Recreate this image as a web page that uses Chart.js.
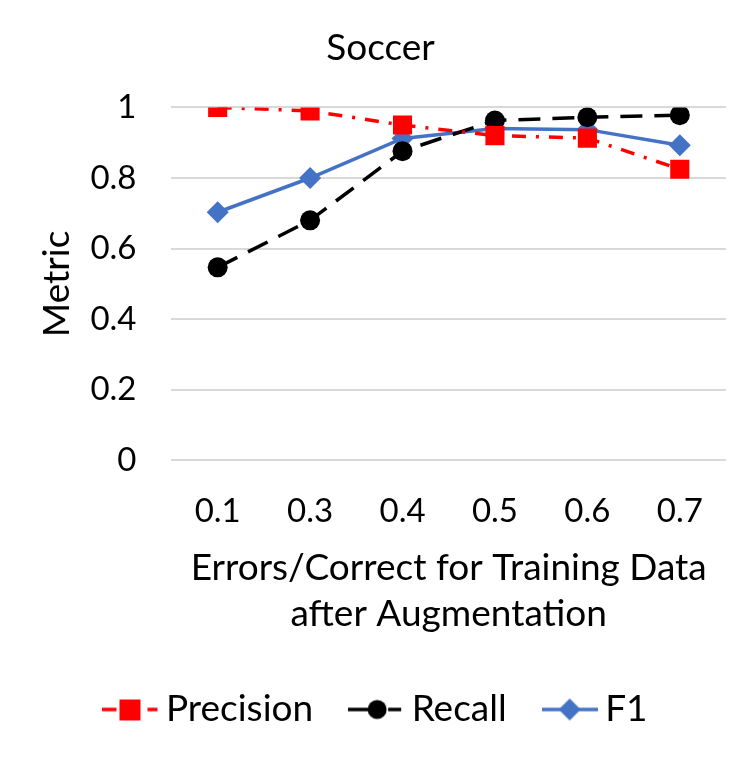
<!DOCTYPE html>
<html><head><meta charset="utf-8">
<script src="https://cdn.jsdelivr.net/npm/chart.js@4/dist/chart.umd.min.js"></script>
<style>html,body{margin:0;padding:0;background:#fff}#wrap{width:753px;height:757px}</style>
</head><body><div id="wrap"><canvas id="c" width="753" height="757"></canvas></div>
<script>
const categories = ['0.1','0.3','0.4','0.5','0.6','0.7'];
const precision = [1.0, 0.99, 0.95, 0.92, 0.913, 0.825];
const recall = [0.547, 0.68, 0.876, 0.963, 0.972, 0.978];
const f1 = [0.703, 0.80, 0.912, 0.94, 0.937, 0.893];
const yTicks = [0, 0.2, 0.4, 0.6, 0.8, 1];

const FONT = 'Lato, "Open Sans", sans-serif';
const RED = '#FF0000', BLACK = '#000000', BLUE = '#4472C4';

function legendIcon(kind) {
  const c = document.createElement('canvas');
  c.width = 56; c.height = 26;
  const g = c.getContext('2d');
  const cy = 13;
  g.lineWidth = 3.5;
  if (kind === 'precision') {
    g.strokeStyle = RED; g.fillStyle = RED;
    g.beginPath(); g.moveTo(0, cy); g.lineTo(14, cy); g.moveTo(45, cy); g.lineTo(55, cy); g.stroke();
    g.beginPath(); g.rect(17, cy - 10, 21, 21); g.fill();
  } else if (kind === 'recall') {
    g.strokeStyle = BLACK; g.fillStyle = BLACK;
    g.beginPath(); g.moveTo(0, cy); g.lineTo(22, cy); g.moveTo(40, cy); g.lineTo(53, cy); g.stroke();
    g.beginPath(); g.arc(29, cy, 9.5, 0, Math.PI * 2); g.fill();
  } else {
    g.strokeStyle = BLUE; g.fillStyle = BLUE;
    g.beginPath(); g.moveTo(0, cy); g.lineTo(56, cy); g.stroke();
    g.beginPath(); g.moveTo(28, cy - 11); g.lineTo(39, cy); g.lineTo(28, cy + 11); g.lineTo(17, cy); g.closePath(); g.fill();
  }
  return c;
}

const icons = [legendIcon('precision'), legendIcon('recall'), legendIcon('f1')];

new Chart(document.getElementById('c'), {
  type: 'line',
  data: {
    labels: categories,
    datasets: [
      { label: 'Precision', data: precision, borderColor: RED, backgroundColor: RED, borderWidth: 3.5,
        borderDash: [14, 10, 3, 10], pointStyle: 'rect', pointRadius: 13.5, pointHoverRadius: 13.5, pointBorderWidth: 0 },
      { label: 'Recall', data: recall, borderColor: BLACK, backgroundColor: BLACK, borderWidth: 3.5,
        borderDash: [22, 12], pointStyle: 'circle', pointRadius: 10, pointHoverRadius: 10, pointBorderWidth: 0 },
      { label: 'F1', data: f1, borderColor: BLUE, backgroundColor: BLUE, borderWidth: 3.5,
        pointStyle: 'rectRot', pointRadius: 11, pointHoverRadius: 11, pointBorderWidth: 0 }
    ]
  },
  options: {
    responsive: false,
    animation: false,
    layout: { padding: { top: 16, right: 27, bottom: 19, left: 35 } },
    plugins: {
      tooltip: { enabled: false },
      title: { display: true, text: 'Soccer', color: '#000', font: { family: FONT, size: 37, weight: 'normal', lineHeight: 1.2 }, padding: { top: 10, bottom: 37 } },
      legend: {
        position: 'bottom',
        labels: {
          color: '#000', font: { family: FONT, size: 37 }, usePointStyle: true, pointStyleWidth: 34, padding: 46,
          generateLabels: (chart) => chart.data.datasets.map((ds, i) => ({
            text: ds.label, fillStyle: ds.borderColor, strokeStyle: ds.borderColor, pointStyle: icons[i],
            fontColor: '#000', lineWidth: 0, hidden: false, datasetIndex: i
          }))
        }
      }
    },
    scales: {
      x: {
        offset: true,
        grid: { display: false, drawTicks: false },
        border: { display: false },
        ticks: { color: '#000', font: { family: FONT, size: 33 }, padding: 31 },
        title: { display: true, text: ['Errors/Correct for Training Data', 'after Augmentation'], color: '#000',
          font: { family: FONT, size: 37, lineHeight: 1.243 }, padding: { top: -17, bottom: 8 } }
      },
      y: {
        min: 0, max: 1,
        afterBuildTicks: (s) => { s.ticks = yTicks.map(v => ({ value: v })); },
        grid: { color: '#d9d9d9', lineWidth: 2, drawTicks: false },
        border: { display: false },
        ticks: { color: '#000', font: { family: FONT, size: 33 }, padding: 35, callback: (v) => String(v) },
        title: { display: true, text: 'Metric', color: '#000', font: { family: FONT, size: 37, lineHeight: 1.2 }, padding: { top: 0, bottom: -24 } }
      }
    }
  }
});
</script>
</body></html>
